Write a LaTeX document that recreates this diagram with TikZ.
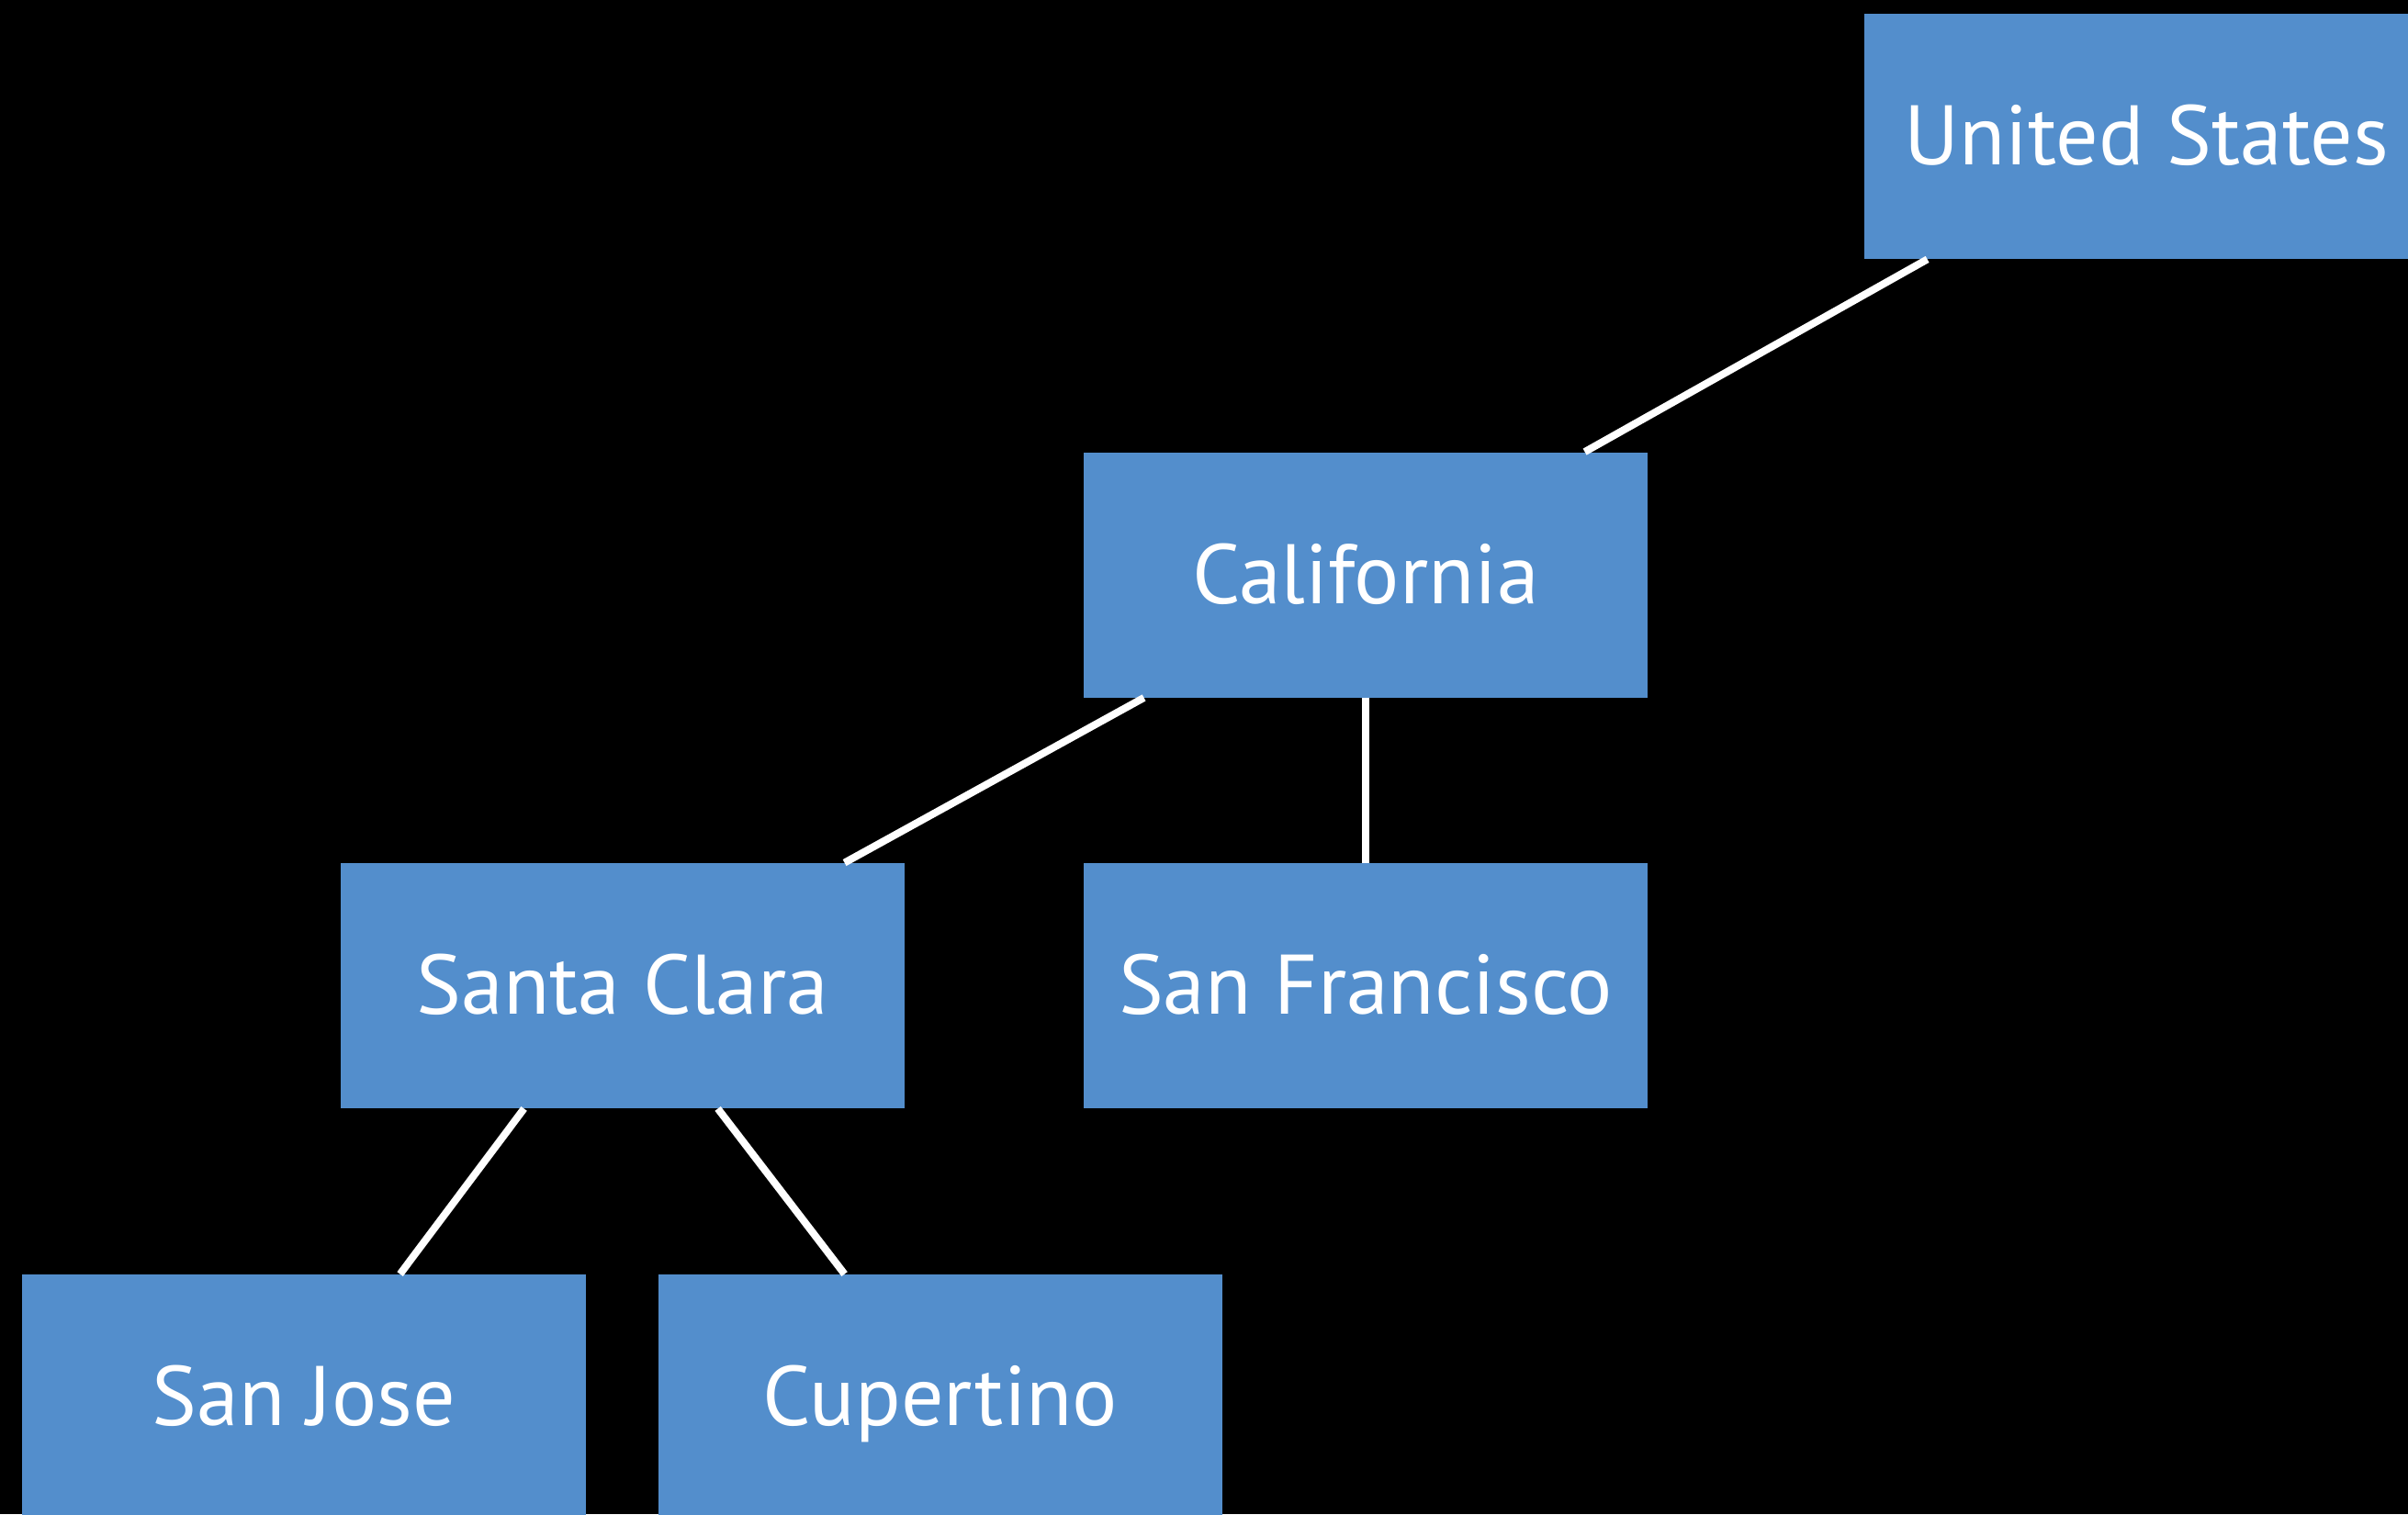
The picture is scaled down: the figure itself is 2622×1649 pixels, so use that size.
\documentclass[tikz,border=0pt]{standalone}
\usepackage{fontspec}
\setmainfont{PT Sans}
\usetikzlibrary{calc}
\definecolor{boxblue}{RGB}{83,142,204}
\tikzset{
  place/.style={rectangle, fill=boxblue, inner sep=0pt,
    minimum width=307pt, minimum height=133.5pt,
    text height=40pt, text depth=9pt,
    text=white, font=\fontsize{46}{54}\selectfont},
  link/.style={draw=white, line width=4pt}
}
\begin{document}
\begin{tikzpicture}[x=0.5pt, y=-0.5pt]
  % black backdrop, also fixes the page size
  \fill[black] (0,0) rectangle (2622,1649);
  \useasboundingbox (0,0) rectangle (2622,1649);

  \node[place] (us)  at (2337,148.5)  {United States};
  \node[place] (cal) at (1487,626)    {California};
  \node[place] (sc)  at (678,1073.5)  {Santa Clara};
  \node[place] (sf)  at (1487,1073.5) {San Francisco};
  \node[place] (sj)  at (331,1521.5)  {San Jose};
  \node[place] (cup) at (1024,1521.5) {Cupertino};

  \draw[link] ($(us.south west)+(69,0)$)  -- ($(cal.north west)+(546,0)$);
  \draw[link] ($(cal.south west)+(66,0)$) -- ($(sc.north west)+(549,0)$);
  \draw[link] (cal.south) -- (sf.north);
  \draw[link] ($(sc.south west)+(200,0)$) -- ($(sj.north west)+(412,0)$);
  \draw[link] ($(sc.south west)+(411,0)$) -- ($(cup.north west)+(203,0)$);
\end{tikzpicture}
\end{document}
